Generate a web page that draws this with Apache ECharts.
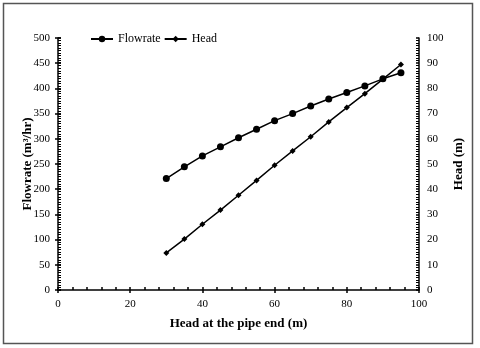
<!DOCTYPE html>
<html><head><meta charset="utf-8">
<script src="https://cdn.jsdelivr.net/npm/echarts@6/dist/echarts.min.js"></script>
<style>html,body{margin:0;padding:0;background:#fff}#c{width:480px;height:348px}</style>
</head><body><div id="c"></div>
<script>
const headEnd = [30, 35, 40, 45, 50, 55, 60, 65, 70, 75, 80, 85, 90, 95];
const flowrate = [221, 244.5, 266, 284, 302, 319, 336, 350, 365, 379, 392, 405, 419, 431];
const head = [14.7, 20.2, 26.1, 31.7, 37.6, 43.5, 49.5, 55.2, 60.8, 66.7, 72.4, 77.9, 83.7, 89.5];

const font = 'Liberation Serif';
const chart = echarts.init(document.getElementById('c'));
const axLine = {show: true, onZero: false, lineStyle: {color: '#000', width: 1.5}};
const lbl = {color: '#000', fontFamily: font, fontSize: 11};
const nameStyle = {color: '#000', fontFamily: font, fontSize: 13, fontWeight: 'bold'};

function mkX(dup) {
  return {
    type: 'value', min: 0, max: 100, interval: 20, position: 'bottom',
    axisLine: dup ? {show: false} : axLine,
    axisTick: {show: true, inside: !dup, length: 3, lineStyle: {color: '#000', width: 1.5}},
    minorTick: {show: !dup, splitNumber: 5, length: 3, lineStyle: {color: '#000', width: 1.5}},
    axisLabel: dup ? {show: false} : Object.assign({margin: 9}, lbl),
    splitLine: {show: false},
    name: dup ? '' : 'Head at the pipe end (m)', nameLocation: 'middle', nameGap: 27,
    nameMoveOverlap: false,
    nameTextStyle: nameStyle
  };
}
function mkY(pos, max, interval, minorSplit, dup, name) {
  return {
    type: 'value', min: 0, max: max, interval: interval, position: pos,
    axisLine: dup ? {show: false} : axLine,
    axisTick: {show: true, inside: !dup, length: 3, lineStyle: {color: '#000', width: 1.5}},
    minorTick: {show: !dup, splitNumber: minorSplit, length: 3, lineStyle: {color: '#000', width: 1}},
    axisLabel: dup ? {show: false} : Object.assign({margin: 8}, lbl),
    splitLine: {show: false},
    name: dup ? '' : name, nameLocation: 'middle', nameGap: pos === 'left' ? 24 : 33,
    nameMoveOverlap: false,
    nameTextStyle: nameStyle
  };
}

chart.setOption({
  backgroundColor: '#fff',
  animation: false,
  graphic: [{type: 'rect', shape: {x: 3.5, y: 3.5, width: 469, height: 340},
    style: {fill: null, stroke: '#555', lineWidth: 1.5}, z: -1}],
  legend: {
    left: 90, top: 33, padding: 0, itemWidth: 22, itemHeight: 8, itemGap: 3,
    textStyle: {color: '#000', fontFamily: font, fontSize: 12},
    data: ['Flowrate', 'Head']
  },
  grid: {left: 58, right: 61, top: 38, bottom: 58, containLabel: false},
  xAxis: [mkX(false), mkX(true)],
  yAxis: [
    mkY('left', 500, 50, 10, false, 'Flowrate (m³/hr)'),
    mkY('right', 100, 10, 10, false, 'Head (m)'),
    mkY('left', 500, 50, 10, true, ''),
    mkY('right', 100, 10, 10, true, '')
  ],
  series: [
    {name: 'Flowrate', type: 'line', xAxisIndex: 0, yAxisIndex: 0,
     data: headEnd.map((x, i) => [x, flowrate[i]]),
     symbol: 'circle', symbolSize: 7, lineStyle: {color: '#000', width: 1.5},
     itemStyle: {color: '#000'}},
    {name: 'Head', type: 'line', xAxisIndex: 0, yAxisIndex: 1,
     data: headEnd.map((x, i) => [x, head[i]]),
     symbol: 'diamond', symbolSize: 6, lineStyle: {color: '#000', width: 1.5},
     itemStyle: {color: '#000'}}
  ]
});
</script></body></html>
